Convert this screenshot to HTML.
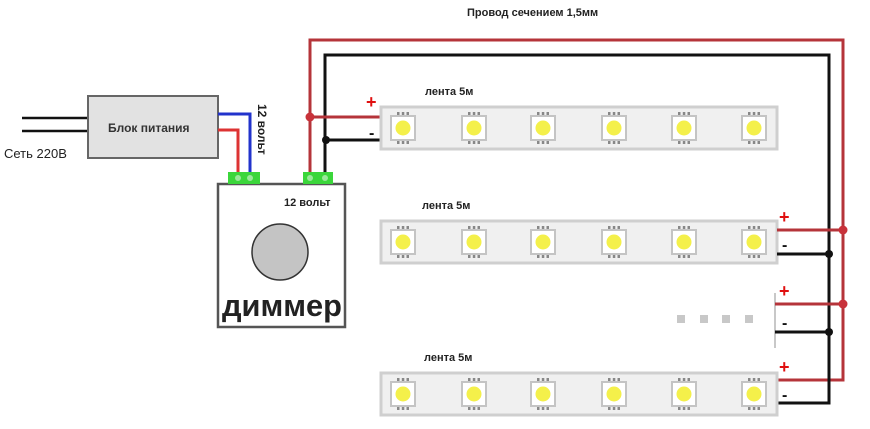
<!DOCTYPE html>
<html><head><meta charset="utf-8"><style>
html,body{margin:0;padding:0;background:#fff;}
svg{display:block;}
text{font-family:"Liberation Sans","DejaVu Sans",sans-serif;}
</style></head><body>
<svg width="870" height="429" viewBox="0 0 870 429" xmlns="http://www.w3.org/2000/svg">
<defs>
<g id="led">
  <rect x="-12" y="-12" width="24" height="24" fill="#fff" stroke="#c4c4c4" stroke-width="2"/>
  <circle r="7.5" fill="#f4f04a"/>
  <rect x="-6" y="-16" width="2.5" height="3" fill="#888"/><rect x="-1.2" y="-16" width="2.5" height="3" fill="#888"/><rect x="3.5" y="-16" width="2.5" height="3" fill="#888"/>
  <rect x="-6" y="13" width="2.5" height="3" fill="#888"/><rect x="-1.2" y="13" width="2.5" height="3" fill="#888"/><rect x="3.5" y="13" width="2.5" height="3" fill="#888"/>
</g>
<g id="strip">
  <rect x="0" y="0" width="396" height="42" fill="#f0f0f0" stroke="#cfcfcf" stroke-width="3"/>
  <use href="#led" x="22" y="21"/><use href="#led" x="93" y="21"/><use href="#led" x="162" y="21"/>
  <use href="#led" x="233" y="21"/><use href="#led" x="303" y="21"/><use href="#led" x="373" y="21"/>
</g>
</defs>

<text x="467" y="16" font-size="11" font-weight="bold" fill="#222">Провод сечением 1,5мм</text>

<line x1="22" y1="118" x2="88" y2="118" stroke="#111" stroke-width="2.5"/>
<line x1="22" y1="131" x2="88" y2="131" stroke="#111" stroke-width="2.5"/>
<text x="4" y="158" font-size="13" fill="#222">Сеть 220В</text>

<rect x="88" y="96" width="130" height="62" fill="#e2e2e2" stroke="#666" stroke-width="2"/>
<text x="108" y="132" font-size="12" font-weight="bold" fill="#333">Блок питания</text>

<polyline points="218,114 250,114 250,174" fill="none" stroke="#2233cc" stroke-width="3"/>
<polyline points="218,130 238,130 238,174" fill="none" stroke="#dd3333" stroke-width="3"/>
<text x="258" y="104" font-size="12" font-weight="bold" fill="#222" transform="rotate(90 258 104)">12 вольт</text>

<polyline points="310,174 310,40 843,40 843,380 777,380" fill="none" stroke="#b5343a" stroke-width="3"/>
<polyline points="325,174 325,55 829,55 829,403 777,403" fill="none" stroke="#111" stroke-width="3"/>

<line x1="310" y1="117" x2="381" y2="117" stroke="#b5343a" stroke-width="3"/>
<line x1="325" y1="140" x2="381" y2="140" stroke="#111" stroke-width="3"/>
<circle cx="310" cy="117" r="4.5" fill="#c8323a"/>
<circle cx="326" cy="140" r="4" fill="#111"/>
<text x="366" y="108" font-size="18" font-weight="bold" fill="#e01010">+</text>
<text x="369" y="138" font-size="16" font-weight="bold" fill="#111">-</text>
<use href="#strip" x="381" y="107"/>
<text x="425" y="95" font-size="11" font-weight="bold" fill="#222">лента 5м</text>

<use href="#strip" x="381" y="221"/>
<text x="422" y="209" font-size="11" font-weight="bold" fill="#222">лента 5м</text>
<line x1="777" y1="230" x2="843" y2="230" stroke="#b5343a" stroke-width="3"/>
<line x1="777" y1="254" x2="829" y2="254" stroke="#111" stroke-width="3"/>
<circle cx="843" cy="230" r="4.5" fill="#c8323a"/>
<circle cx="829" cy="254" r="4" fill="#111"/>
<text x="779" y="223" font-size="18" font-weight="bold" fill="#e01010">+</text>
<text x="782" y="250" font-size="16" font-weight="bold" fill="#111">-</text>

<rect x="677" y="315" width="8" height="8" fill="#c8c8c8"/>
<rect x="700" y="315" width="8" height="8" fill="#c8c8c8"/>
<rect x="722" y="315" width="8" height="8" fill="#c8c8c8"/>
<rect x="745" y="315" width="8" height="8" fill="#c8c8c8"/>
<line x1="775" y1="293" x2="775" y2="348" stroke="#c8c8c8" stroke-width="2"/>
<line x1="775" y1="304" x2="843" y2="304" stroke="#b5343a" stroke-width="3"/>
<line x1="775" y1="332" x2="829" y2="332" stroke="#111" stroke-width="3"/>
<circle cx="843" cy="304" r="4.5" fill="#c8323a"/>
<circle cx="829" cy="332" r="4" fill="#111"/>
<text x="779" y="297" font-size="18" font-weight="bold" fill="#e01010">+</text>
<text x="782" y="328" font-size="16" font-weight="bold" fill="#111">-</text>

<use href="#strip" x="381" y="373"/>
<text x="424" y="361" font-size="11" font-weight="bold" fill="#222">лента 5м</text>
<text x="779" y="373" font-size="18" font-weight="bold" fill="#e01010">+</text>
<text x="782" y="400" font-size="16" font-weight="bold" fill="#111">-</text>

<rect x="218" y="184" width="127" height="143" fill="#fff" stroke="#555" stroke-width="2.5"/>
<rect x="228" y="172" width="32" height="12" fill="#3bd63b"/>
<circle cx="238" cy="178" r="3" fill="#9be89b"/><circle cx="250" cy="178" r="3" fill="#9be89b"/>
<rect x="303" y="172" width="30" height="12" fill="#3bd63b"/>
<circle cx="310" cy="178" r="3" fill="#9be89b"/><circle cx="325" cy="178" r="3" fill="#9be89b"/>
<text x="284" y="206" font-size="11" font-weight="bold" fill="#222">12 вольт</text>
<circle cx="280" cy="252" r="28" fill="#c4c4c4" stroke="#333" stroke-width="1.5"/>
<text x="222" y="316" font-size="31" font-weight="bold" fill="#222" textLength="120" lengthAdjust="spacingAndGlyphs">диммер</text>
</svg>
</body></html>
